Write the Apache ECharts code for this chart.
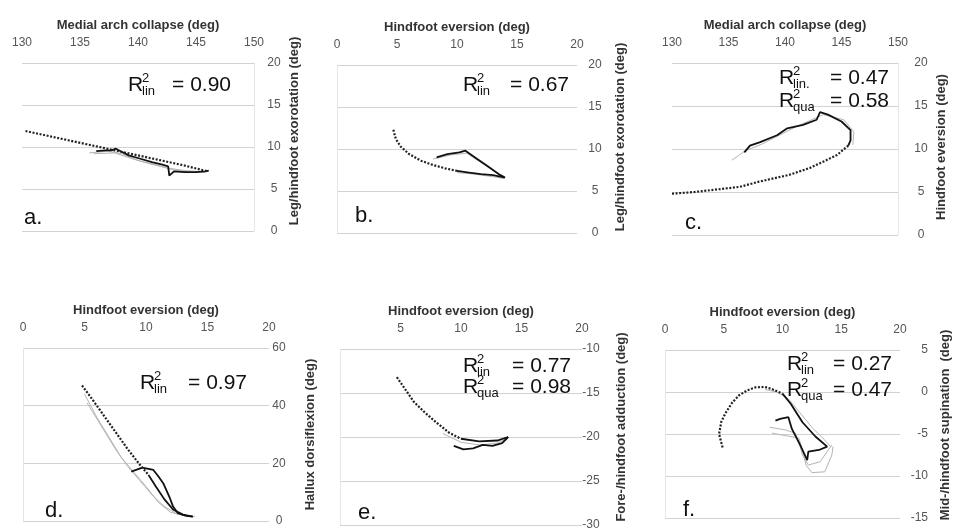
<!DOCTYPE html>
<html>
<head>
<meta charset="utf-8">
<script src="https://cdn.jsdelivr.net/npm/echarts@6/dist/echarts.min.js"></script>
<style>
html, body { margin: 0; padding: 0; background: #fff; }
#main { width: 953px; height: 532px; }
</style>
</head>
<body>
<div id="main"></div>
<script>
// axis titles
var xTitles = ['Medial arch collapse (deg)', 'Hindfoot eversion (deg)', 'Medial arch collapse (deg)',
               'Hindfoot eversion (deg)', 'Hindfoot eversion (deg)', 'Hindfoot eversion (deg)'];
var yTitles = ['Leg/hindfoot exorotation (deg)', 'Leg/hindfoot exorotation (deg)', 'Hindfoot eversion (deg)',
               'Hallux dorsiflexion (deg)', 'Fore-/hindfoot adduction (deg)', 'Mid-/hindfoot supination  (deg)'];
// axis ranges [min, max, interval]
var xRanges = [[130, 150, 5], [0, 20, 5], [130, 150, 5], [0, 20, 5], [0, 20, 5], [0, 20, 5]];
var yRanges = [[0, 20, 5], [0, 20, 5], [0, 20, 5], [0, 60, 20], [-30, -10, 5], [-15, 5, 5]];
var panelLetters = ['a.', 'b.', 'c.', 'd.', 'e.', 'f.'];
// R squared values per panel
var rLin = ['0.90', '0.67', '0.47', '0.97', '0.77', '0.27'];
var rQua = [null, null, '0.58', null, '0.98', '0.47'];

// a. medial arch collapse vs leg/hindfoot exorotation
var aDotted = [[130.3, 11.9], [132, 11.4], [134, 10.8], [136, 10.2], [138, 9.6], [140, 9.0], [142, 8.4], [144, 7.8], [146, 7.1]];
var aSolid = [[136.4, 9.5], [137.2, 9.6], [137.7, 9.6], [138.1, 9.8], [138.5, 9.5], [139.2, 9.0], [140.2, 8.6], [141.2, 8.2], [142.1, 7.9],
              [142.6, 7.7], [142.7, 6.6], [143.1, 7.1], [144, 7.0], [145, 7.0], [145.8, 7.1], [146.1, 7.2]];
var aGray1 = [[135.8, 9.3], [137.4, 9.5], [138.6, 9.2], [140, 8.4], [141.5, 7.9], [143, 7.3], [144.5, 7.0], [146, 7.1]];
var aGray2 = [[136.2, 9.2], [138, 9.3], [139.5, 8.6], [141, 8.0], [142.5, 7.5], [144, 7.2], [145.8, 7.0]];

// b. hindfoot eversion vs leg/hindfoot exorotation
var bDotted = [[4.7, 12.3], [4.9, 11.2], [5.3, 10.3], [6.0, 9.4], [7.0, 8.6], [8.0, 8.1], [9.0, 7.7], [10.0, 7.4]];
var bSolid = [[8.3, 9.0], [9.2, 9.4], [10.2, 9.6], [10.7, 9.8], [11.5, 9.0], [12.5, 8.0], [13.5, 7.0], [14.0, 6.6],
              [13.0, 6.9], [12.0, 7.0], [11.0, 7.2], [10.0, 7.4]];
var bGray1 = [[8.0, 8.8], [9.5, 9.3], [10.8, 9.5], [12.0, 8.4], [13.8, 6.7]];
var bGray2 = [[10.0, 7.2], [11.5, 7.0], [13.0, 6.7], [13.9, 6.5]];

// c. medial arch collapse vs hindfoot eversion
var cDotted = [[130, 4.8], [132, 5.0], [134, 5.3], [136, 5.6], [137.7, 6.2], [140.4, 7.0], [142.2, 7.8], [143.5, 8.6], [144.6, 9.3], [145.6, 10.4]];
var cSolid = [[145.6, 10.4], [145.8, 11.0], [145.8, 12.2], [145.0, 13.2], [143.8, 14.0], [143.1, 14.3], [142.8, 13.4], [141.6, 12.8],
              [140.2, 12.4], [139.3, 11.6], [137.8, 10.8], [136.9, 10.4], [136.4, 9.6]];
var cGray1 = [[146.0, 10.5], [146.1, 12.0], [145.2, 13.4], [143.4, 14.0], [141.0, 12.6], [138.0, 10.6], [136.5, 9.8], [135.3, 8.7]];

// d. hindfoot eversion vs hallux dorsiflexion
var dDotted = [[4.8, 47], [5.5, 43], [6.5, 37], [7.5, 31], [8.5, 25], [9.5, 19.5], [10.2, 16]];
var dSolid = [[8.8, 17.1], [9.7, 18.5], [10.6, 17.7], [11.0, 15.5], [11.4, 13.1], [11.9, 8.4], [12.2, 5.0], [12.6, 2.7], [13.2, 1.9], [13.8, 1.5]];
var dSolid2 = [[10.2, 16], [10.8, 12], [11.5, 7.5], [12.2, 4], [13.0, 2.2], [13.8, 1.5]];
var dGray1 = [[5.0, 44], [6.0, 36], [7.0, 29], [8.0, 22], [9.0, 17], [10.0, 12], [11.0, 6.5], [12.0, 3], [13.5, 1.5]];
var dGray2 = [[5.2, 41], [6.5, 32], [7.5, 25], [8.5, 19], [9.5, 14], [10.5, 9], [11.5, 5], [12.5, 2.5], [14.0, 1.5]];

// e. hindfoot eversion vs fore-/hindfoot adduction
var eDotted = [[4.7, -13.2], [5.3, -14.4], [6.1, -16.0], [7.0, -17.2], [8.0, -18.4], [9.0, -19.5], [10.0, -20.2]];
var eSolid = [[9.4, -21.0], [10.2, -21.4], [11.0, -21.3], [11.8, -20.9], [12.6, -21.0], [13.4, -20.7], [13.9, -20.0]];
var eSolid2 = [[10.0, -20.2], [11.5, -20.5], [13.0, -20.4], [13.9, -20.0]];
var eGray1 = [[8.5, -19.6], [10.0, -20.6], [11.5, -20.9], [13.0, -20.7], [13.8, -20.2]];

// f. hindfoot eversion vs mid-/hindfoot supination
var fDotted = [[4.9, -6.6], [4.6, -5.0], [4.8, -3.5], [5.2, -2.4], [5.7, -1.3], [6.3, -0.4], [7.0, 0.2], [7.7, 0.55], [8.5, 0.6], [9.1, 0.35], [10.0, -0.2]];
var fSolid = [[10.0, -0.2], [10.7, -1.4], [11.7, -3.6], [12.8, -5.3], [13.8, -6.5], [13.1, -6.9], [12.2, -7.1], [12.1, -8.1],
              [11.5, -6.3], [10.8, -4.4], [10.5, -3.0], [9.8, -3.2], [9.4, -3.4]];
var fGray1 = [[8.9, -4.2], [10.2, -4.5], [11.1, -4.9], [11.5, -6.5], [11.7, -7.5], [12.2, -8.7], [13.2, -8.3], [13.9, -6.9], [14.2, -6.3]];
var fGray2 = [[9.1, -4.9], [10.3, -5.2], [11.4, -5.5], [11.8, -7.5], [12.0, -8.7], [12.5, -9.6], [13.6, -9.5], [14.2, -7.5], [14.3, -6.5]];
var fGray3 = [[8.5, 0.3], [9.5, 0.0], [10.5, -0.8], [11.5, -2.5], [12.5, -4.2], [13.5, -5.6], [14.1, -6.5]];

var panelLines = [
    { dotted: [aDotted], solid: [aSolid], gray: [aGray1, aGray2] },
    { dotted: [bDotted], solid: [bSolid], gray: [bGray1, bGray2] },
    { dotted: [cDotted], solid: [cSolid], gray: [cGray1] },
    { dotted: [dDotted], solid: [dSolid, dSolid2], gray: [dGray1, dGray2] },
    { dotted: [eDotted], solid: [eSolid, eSolid2], gray: [eGray1] },
    { dotted: [fDotted], solid: [fSolid], gray: [fGray1, fGray2, fGray3] }
];

// layout of each panel (pixels)
var layout = [
    { left: 22,  top: 63,  width: 232, height: 168, lblAlign: 'center', lblMargin: 20, nameGap: 34, nameShift: 16, rX: 128, rRight: 231, rY: [85], tagX: 24, tagY: 218 },
    { left: 337, top: 65,  width: 240, height: 168, lblAlign: 'center', lblMargin: 18, nameGap: 37, nameShift: 12, rX: 463, rRight: 569, rY: [85], tagX: 355, tagY: 216 },
    { left: 672, top: 63,  width: 226, height: 172, lblAlign: 'center', lblMargin: 23, nameGap: 37, nameShift: 2,  rX: 779, rRight: 889, rY: [78, 101.5], tagX: 685, tagY: 223 },
    { left: 23,  top: 348, width: 246, height: 173, lblAlign: 'center', lblMargin: 10, nameGap: 35, nameShift: 0,  rX: 140, rRight: 247, rY: [383.5], tagX: 45, tagY: 511 },
    { left: 340, top: 349, width: 242, height: 176, lblAlign: 'center', lblMargin: 9,  nameGap: 33, nameShift: 10, rX: 463, rRight: 571, rY: [366, 387.5], tagX: 358, tagY: 513 },
    { left: 665, top: 350, width: 237, height: 168, lblAlign: 'right',  lblMargin: 28, nameGap: 39, nameShift: 9,  rX: 787, rRight: 892, rY: [364.5, 390], tagX: 683, tagY: 510 }
];

var FONT = '"Liberation Sans", Arial, sans-serif';
var grids = [], xAxes = [], yAxes = [], series = [], graphics = [];

layout.forEach(function(p, i) {
    grids.push({ left: p.left, top: p.top, width: p.width, height: p.height });
    xAxes.push({
        gridIndex: i, type: 'value', position: 'top',
        min: xRanges[i][0], max: xRanges[i][1], interval: xRanges[i][2],
        name: xTitles[i], nameLocation: 'middle', nameGap: 31,
        nameTextStyle: { fontFamily: FONT, fontWeight: 'bold', fontSize: 13, color: '#333' },
        axisLine: { show: false }, axisTick: { show: false }, splitLine: { show: false },
        axisLabel: { fontFamily: FONT, fontSize: 12, color: '#555', margin: 14, showMinLabel: i !== 4 }
    });
    yAxes.push({
        gridIndex: i, type: 'value', position: 'right',
        min: yRanges[i][0], max: yRanges[i][1], interval: yRanges[i][2],
        name: yTitles[i], nameLocation: 'middle', nameGap: p.nameGap, nameRotate: 90,
        nameTextStyle: { fontFamily: FONT, fontWeight: 'bold', fontSize: 13, color: '#333',
                         padding: [0, 0, 0, p.nameShift * 2] },
        axisLine: { show: true, lineStyle: { color: '#e6e6e6' } }, axisTick: { show: false },
        splitLine: { show: true, lineStyle: { color: '#d2d2d2', width: 1 } },
        axisLabel: { fontFamily: FONT, fontSize: 12, color: '#555', margin: p.lblMargin, align: p.lblAlign }
    });

    var L = panelLines[i];
    L.gray.forEach(function(d) {
        series.push({ type: 'line', xAxisIndex: i, yAxisIndex: i, data: d, showSymbol: false, silent: true,
                      lineStyle: { color: '#b4b4b4', width: 1 }, z: 2 });
    });
    L.solid.forEach(function(d) {
        series.push({ type: 'line', xAxisIndex: i, yAxisIndex: i, data: d, showSymbol: false, silent: true,
                      lineStyle: { color: '#111', width: 1.8 }, z: 3 });
    });
    L.dotted.forEach(function(d) {
        series.push({ type: 'line', xAxisIndex: i, yAxisIndex: i, data: d, showSymbol: false, silent: true,
                      lineStyle: { color: '#222', width: 2.2, type: [2, 1.6] }, z: 4 });
    });

    // R squared annotations
    var rows = [['lin' + (i === 2 ? '.' : ''), rLin[i]]];
    if (rQua[i]) rows.push(['qua', rQua[i]]);
    rows.forEach(function(r, k) {
        var y = p.rY[k];
        var st = { fontFamily: FONT, fill: '#111' };
        graphics.push({ type: 'text', z: 100, x: p.rX, y: y,
            style: Object.assign({ text: 'R', fontSize: 21, verticalAlign: 'middle', align: 'left' }, st) });
        graphics.push({ type: 'text', z: 100, x: p.rX + 14, y: y - 7,
            style: Object.assign({ text: '2', fontSize: 13, verticalAlign: 'middle', align: 'left' }, st) });
        graphics.push({ type: 'text', z: 100, x: p.rX + 14, y: y + 6,
            style: Object.assign({ text: r[0], fontSize: 13, verticalAlign: 'middle', align: 'left' }, st) });
        graphics.push({ type: 'text', z: 100, x: p.rRight, y: y,
            style: Object.assign({ text: '= ' + r[1], fontSize: 21, verticalAlign: 'middle', align: 'right' }, st) });
    });
    graphics.push({ type: 'text', z: 100, x: p.tagX, y: p.tagY,
        style: { text: panelLetters[i], fontFamily: FONT, fontSize: 22, fill: '#111', verticalAlign: 'middle', align: 'left' } });
});

var chart = echarts.init(document.getElementById('main'), null, { renderer: 'canvas' });
chart.setOption({
    backgroundColor: '#fff',
    animation: false,
    grid: grids,
    xAxis: xAxes,
    yAxis: yAxes,
    series: series,
    graphic: graphics
});
</script>
</body>
</html>
